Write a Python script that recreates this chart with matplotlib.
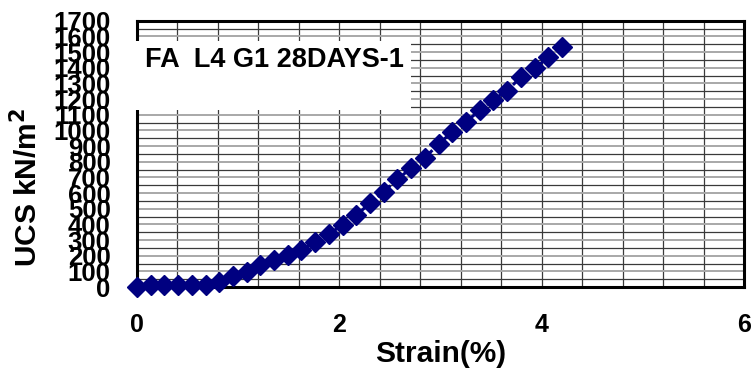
import matplotlib
matplotlib.use("Agg")
import matplotlib.pyplot as plt
from matplotlib.patches import Rectangle
from matplotlib.ticker import MultipleLocator
import numpy as np

plt.rcParams['font.family'] = ['Liberation Sans', 'DejaVu Sans']
plt.rcParams['font.weight'] = 'bold'

# Strain readings, one every 0.1355 %
strain = np.arange(32) * 0.1355
ucs = [0, 15, 15, 15, 15, 15, 35, 68, 98, 140, 172, 202, 236, 289, 340, 395,
       458, 536, 609, 687, 760, 825, 913, 990, 1055, 1127, 1195, 1254, 1339,
       1396, 1466, 1530]

sample_name = "FA  L4 G1 28DAYS-1"
x_ticks = [0, 2, 4, 6]
y_ticks = np.arange(0, 1701, 100)

fig = plt.figure(figsize=(7.54, 3.79), dpi=100)
ax = fig.add_axes([0.1817, 0.2427, 0.805, 0.7027])

ax.set_xlim(0, 6)
ax.set_ylim(0, 1700)
ax.set_xticks(x_ticks)
ax.set_yticks(y_ticks)
ax.xaxis.set_minor_locator(MultipleLocator(0.4))
ax.yaxis.set_minor_locator(MultipleLocator(50))

# grid: grey lines on the hundreds, dark lines in between
ax.grid(which='major', axis='y', color='#a8a8a8', lw=1.4)
ax.grid(which='minor', axis='y', color='#3a3a3a', lw=0.9)
ax.grid(which='both', axis='x', color='#3a3a3a', lw=0.9)
ax.set_axisbelow(True)

for s in ax.spines.values():
    s.set_linewidth(2.2)
    s.set_color('black')

ax.tick_params(which='both', length=0)
ax.tick_params(axis='x', labelsize=18, pad=19)
ax.tick_params(axis='y', labelsize=18.5, pad=19)

ax.plot(strain, ucs, color='#000080', lw=2.2, linestyle=(0, (2.0, 1.6)),
        marker='D', markersize=10, clip_on=False, zorder=6)

# white label panel over the upper-left corner of the grid
ax.add_patch(Rectangle((-0.02, 1133), 2.73, 440, facecolor='white',
                       edgecolor='none', clip_on=False, zorder=5))
ax.text(0.08, 1450, sample_name, fontsize=19.5, fontweight='bold',
        va='center', ha='left', zorder=7)

ax.set_xlabel('Strain(%)', fontsize=21.5, fontweight='bold', labelpad=2)
fig.text(0.036, 0.505, 'UCS kN/m$^\\mathbf{2}$', rotation=90, fontsize=21.5,
         fontweight='bold', ha='center', va='center')

fig.savefig('out.png', dpi=100)
